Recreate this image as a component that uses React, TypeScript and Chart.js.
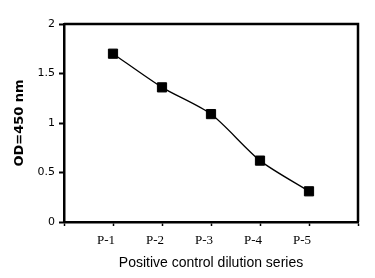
import React, { useEffect, useRef } from "react";
import { Chart, registerables } from "chart.js";

Chart.register(...registerables);

const categories = ["P-1", "P-2", "P-3", "P-4", "P-5"];
const odValues = [1.70, 1.36, 1.09, 0.62, 0.31];
const yTicks = [0, 0.5, 1, 1.5, 2];

const frame = {
  id: "frame",
  afterDatasetsDraw(chart: any) {
    const { ctx, chartArea } = chart;
    ctx.save();
    ctx.strokeStyle = "#000";
    ctx.lineWidth = 2.5;
    ctx.beginPath();
    ctx.moveTo(chartArea.left, chartArea.top);
    ctx.lineTo(chartArea.right, chartArea.top);
    ctx.lineTo(chartArea.right, chartArea.bottom);
    ctx.stroke();
    ctx.restore();
  },
};

export default function App() {
  const ref = useRef<HTMLCanvasElement>(null);
  useEffect(() => {
    const chart = new Chart(ref.current!, {
      type: "line",
      data: {
        datasets: [
          {
            data: categories.map((c, i) => ({ x: i + 1, y: odValues[i] })),
            borderColor: "#000",
            backgroundColor: "#000",
            borderWidth: 1.3,
            tension: 0.25,
            pointStyle: "rect",
            pointRadius: 6.5,
            pointBorderWidth: 1,
            pointBackgroundColor: "#000",
            pointBorderColor: "#000",
          },
        ],
      },
      options: {
        animation: false,
        responsive: false,
        devicePixelRatio: 1,
        layout: { padding: { top: 24, right: 17, left: 0, bottom: 0 } },
        plugins: { legend: { display: false }, tooltip: { enabled: false } },
        scales: {
          x: {
            type: "linear",
            min: 0,
            max: 6,
            afterFit: (s: any) => { s.height = 56; },
            afterBuildTicks: (s: any) => {
              s.ticks = [0, 1, 2, 3, 4, 5, 6].map((v) => ({ value: v }));
            },
            ticks: {
              autoSkip: false,
              maxRotation: 0,
              padding: 7,
              labelOffset: -7,
              color: "#000",
              font: { family: "Liberation Serif", size: 13 },
              callback: (v: any) => categories[Number(v) - 1] ?? "",
            },
            grid: { drawOnChartArea: false, drawTicks: true, tickLength: 4, color: "#000", tickWidth: 1.5 },
            border: { display: true, color: "#000", width: 2.5 },
            title: {
              display: true,
              text: "Positive control dilution series",
              color: "#000",
              font: { family: "Liberation Sans", size: 14 },
              padding: { top: 0, bottom: 6 },
            },
          },
          y: {
            min: 0,
            max: 2,
            afterFit: (s: any) => { s.width = 64; },
            afterBuildTicks: (s: any) => {
              s.ticks = yTicks.map((v) => ({ value: v }));
            },
            ticks: {
              padding: 4,
              color: "#000",
              font: { family: "DejaVu Sans", size: 11 },
              callback: (v: any) => String(v),
            },
            grid: { drawOnChartArea: false, drawTicks: true, tickLength: 5, color: "#000", tickWidth: 2 },
            border: { display: true, color: "#000", width: 2.5 },
            title: {
              display: true,
              text: "OD=450 nm",
              color: "#000",
              font: { family: "DejaVu Sans", size: 13, weight: "bold" },
              padding: { top: 12, bottom: 0 },
            },
          },
        },
      },
      plugins: [frame],
    });
    return () => chart.destroy();
  }, []);
  return (
    <div style={{ position: "fixed", left: 0, top: 0, width: 375, height: 278, background: "#fff" }}>
      <canvas ref={ref} width={375} height={278} style={{ width: 375, height: 278 }} />
    </div>
  );
}
